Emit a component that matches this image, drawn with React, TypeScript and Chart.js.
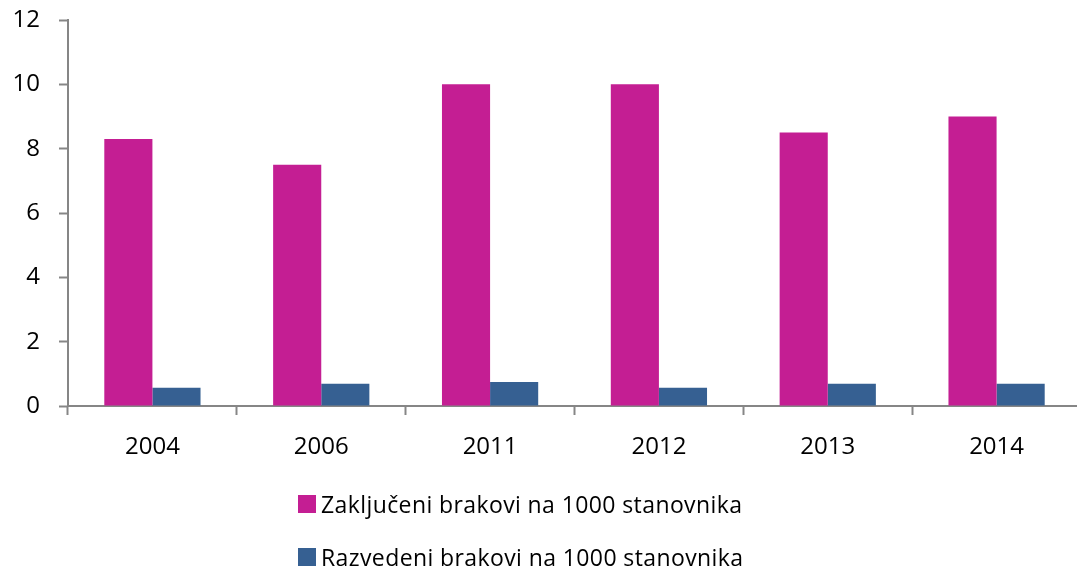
import React, { useEffect, useRef } from "react";
import { Chart, registerables } from "chart.js";

Chart.register(...registerables);

const categories = ["2004", "2006", "2011", "2012", "2013", "2014"];
const marriages = [8.3, 7.5, 10.0, 10.0, 8.5, 9.0];
const divorces = [0.57, 0.69, 0.75, 0.57, 0.69, 0.69];
const seriesNames = [
  "Zaključeni brakovi na 1000 stanovnika",
  "Razvedeni brakovi na 1000 stanovnika",
];
const seriesColors = ["#C41E93", "#366092"];
const yTicks = [0, 2, 4, 6, 8, 10, 12];

const FONT = "'Open Sans', 'DejaVu Sans', sans-serif";
const AXIS = "#868686";

export default function App() {
  const ref = useRef<HTMLCanvasElement | null>(null);

  useEffect(() => {
    const canvas = ref.current;
    if (!canvas) return;
    const chart = new Chart(canvas, {
      type: "bar",
      data: {
        labels: categories,
        datasets: [
          {
            label: seriesNames[0],
            data: marriages,
            backgroundColor: seriesColors[0],
            borderWidth: 0,
            categoryPercentage: 0.57,
            barPercentage: 1,
          },
          {
            label: seriesNames[1],
            data: divorces,
            backgroundColor: seriesColors[1],
            borderWidth: 0,
            categoryPercentage: 0.57,
            barPercentage: 1,
          },
        ],
      },
      options: {
        responsive: false,
        animation: false,
        devicePixelRatio: 1,
        layout: { padding: { top: 20, right: 9, left: 0, bottom: 0 } },
        plugins: {
          legend: { display: false },
          tooltip: { enabled: false },
        },
        scales: {
          x: {
            offset: true,
            grid: {
              offset: true,
              drawOnChartArea: false,
              drawTicks: true,
              tickLength: 9,
              tickWidth: 2,
              tickColor: AXIS,
            },
            border: { color: AXIS, width: 2 },
            ticks: {
              color: "#000",
              font: { family: FONT, size: 24 },
              padding: 18,
              maxRotation: 0,
            },
            afterFit: (scale: any) => {
              scale.height = 160;
              scale.paddingLeft = 0;
              scale.paddingRight = 0;
            },
          },
          y: {
            min: 0,
            max: 12,
            afterBuildTicks: (scale: any) => {
              scale.ticks = yTicks.map((v) => ({ value: v }));
            },
            grid: {
              drawOnChartArea: false,
              drawTicks: true,
              tickLength: 9,
              tickWidth: 2,
              tickColor: AXIS,
            },
            border: { color: AXIS, width: 2 },
            ticks: {
              color: "#000",
              font: { family: FONT, size: 24 },
              padding: 19,
            },
            afterFit: (scale: any) => {
              scale.width = 68;
              scale.paddingTop = 0;
              scale.paddingBottom = 0;
            },
          },
        },
      },
    });
    return () => chart.destroy();
  }, []);

  const legendTops = [494, 547];

  return (
    <div
      style={{
        position: "fixed",
        left: 0,
        top: 0,
        width: 1077,
        height: 566,
        overflow: "hidden",
        background: "#fff",
      }}
    >
      <canvas ref={ref} width={1090} height={566} style={{ display: "block" }} />
      {seriesNames.map((name, i) => (
        <div
          key={name}
          style={{
            position: "absolute",
            left: 298,
            top: legendTops[i],
            height: 19,
            display: "flex",
            alignItems: "center",
            fontFamily: FONT,
            fontSize: 23,
            letterSpacing: 0.4,
            color: "#000",
            whiteSpace: "nowrap",
          }}
        >
          <span
            style={{
              display: "inline-block",
              width: 18,
              height: 18,
              background: seriesColors[i],
              marginRight: 5,
            }}
          />
          <span>{name}</span>
        </div>
      ))}
    </div>
  );
}
